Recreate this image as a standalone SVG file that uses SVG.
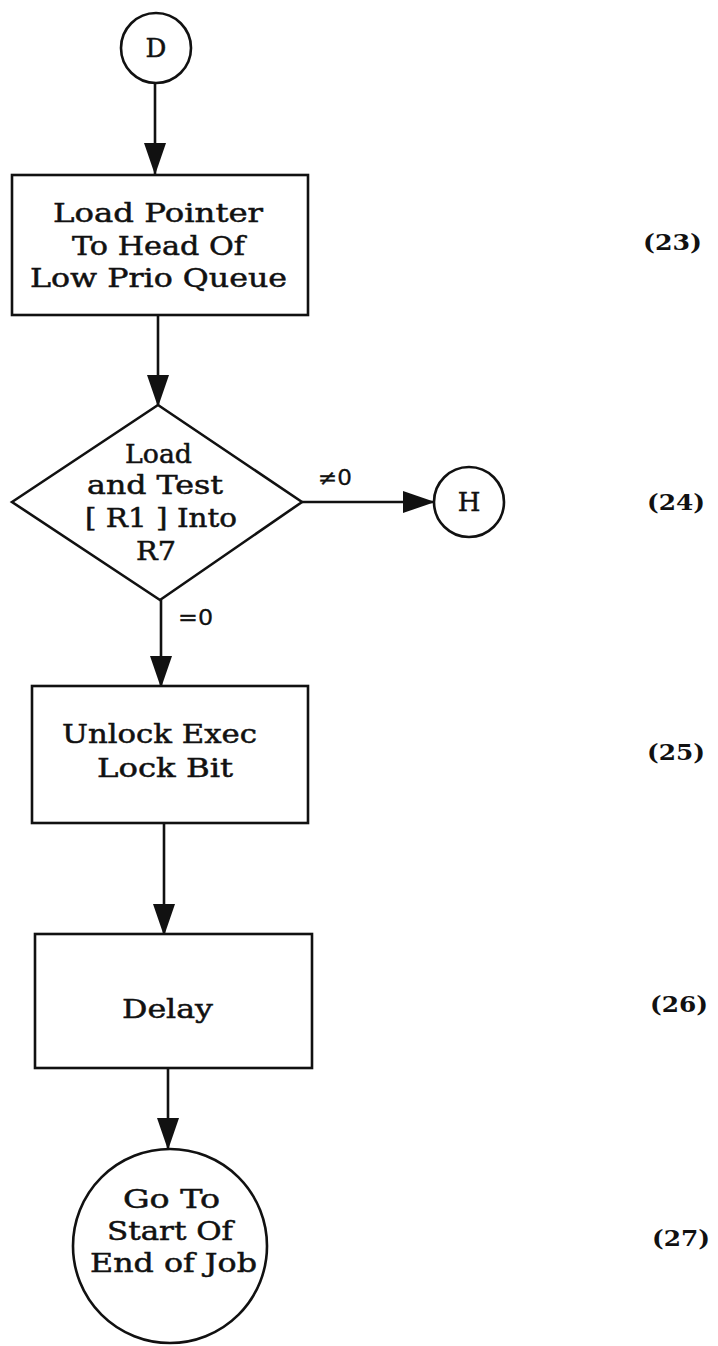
<svg xmlns="http://www.w3.org/2000/svg" width="718" height="1346" viewBox="0 0 718 1346">
  <style>
    .shape { fill: #ffffff; stroke: #111111; stroke-width: 2.6; }
    .conn { fill: none; stroke: #111111; stroke-width: 2.6; }
    .txt { font-family: "DejaVu Serif", "Liberation Serif", serif; font-size: 26px; fill: #111111; stroke: #111111; stroke-width: 0.5; }
    .lbl { font-family: "DejaVu Serif", "Liberation Serif", serif; font-size: 22px; fill: #111111; font-weight: bold; }
    .edge { font-family: "DejaVu Sans", "Liberation Sans", sans-serif; font-size: 21px; fill: #111111; stroke: #111111; stroke-width: 0.3; }
  </style>
  <defs>
    <marker id="arrow" markerUnits="userSpaceOnUse" markerWidth="32" markerHeight="22" refX="31" refY="11" orient="auto">
      <path d="M0,0 L32,11 L0,22 Z" fill="#111111"/>
    </marker>
  </defs>
  <rect width="718" height="1346" fill="#ffffff"/>

  <!-- connectors -->
  <g id="connectors">
    <line class="conn" x1="155" y1="83" x2="155" y2="174" marker-end="url(#arrow)"/>
    <line class="conn" x1="158" y1="315" x2="158" y2="406" marker-end="url(#arrow)"/>
    <line class="conn" x1="302" y1="502" x2="434" y2="502" marker-end="url(#arrow)"/>
    <line class="conn" x1="161" y1="600" x2="161" y2="687" marker-end="url(#arrow)"/>
    <line class="conn" x1="164" y1="823" x2="164" y2="935" marker-end="url(#arrow)"/>
    <line class="conn" x1="168" y1="1068" x2="168" y2="1149" marker-end="url(#arrow)"/>
    <text class="edge" x="318" y="485" textLength="34" lengthAdjust="spacingAndGlyphs">≠0</text>
    <text class="edge" x="178" y="625" textLength="35" lengthAdjust="spacingAndGlyphs">=0</text>
  </g>

  <!-- entry connector D -->
  <g id="node-d">
    <circle class="shape" cx="156" cy="48" r="35"/>
    <text class="txt" x="156" y="57" text-anchor="middle">D</text>
  </g>

  <!-- step 23 -->
  <g id="node-load-pointer">
    <rect class="shape" x="12" y="175" width="296" height="140"/>
    <text class="txt" x="53" y="222" textLength="210" lengthAdjust="spacingAndGlyphs">Load Pointer</text>
    <text class="txt" x="72" y="255" textLength="173" lengthAdjust="spacingAndGlyphs">To Head Of</text>
    <text class="txt" x="30" y="287" textLength="257" lengthAdjust="spacingAndGlyphs">Low Prio Queue</text>
  </g>

  <!-- step 24 -->
  <g id="node-test">
    <polygon class="shape" points="12,502 158,405 302,502 160,600"/>
    <text class="txt" x="125" y="463" textLength="67" lengthAdjust="spacingAndGlyphs">Load</text>
    <text class="txt" x="87" y="494" textLength="136" lengthAdjust="spacingAndGlyphs">and Test</text>
    <text class="txt" x="85" y="527" textLength="152" lengthAdjust="spacingAndGlyphs">[ R1 ] Into</text>
    <text class="txt" x="136" y="560" textLength="40" lengthAdjust="spacingAndGlyphs">R7</text>
  </g>

  <!-- exit connector H -->
  <g id="node-h">
    <circle class="shape" cx="469" cy="502" r="35"/>
    <text class="txt" x="469" y="511" text-anchor="middle">H</text>
  </g>

  <!-- step 25 -->
  <g id="node-unlock">
    <rect class="shape" x="32" y="686" width="276" height="137"/>
    <text class="txt" x="62" y="743" textLength="195" lengthAdjust="spacingAndGlyphs">Unlock Exec</text>
    <text class="txt" x="97" y="777" textLength="136" lengthAdjust="spacingAndGlyphs">Lock Bit</text>
  </g>

  <!-- step 26 -->
  <g id="node-delay">
    <rect class="shape" x="35" y="934" width="277" height="134"/>
    <text class="txt" x="122" y="1018" textLength="91" lengthAdjust="spacingAndGlyphs">Delay</text>
  </g>

  <!-- step 27 -->
  <g id="node-end">
    <circle class="shape" cx="170" cy="1246" r="97"/>
    <text class="txt" x="123" y="1208" textLength="97" lengthAdjust="spacingAndGlyphs">Go To</text>
    <text class="txt" x="107" y="1240" textLength="126" lengthAdjust="spacingAndGlyphs">Start Of</text>
    <text class="txt" x="90" y="1272" textLength="167" lengthAdjust="spacingAndGlyphs">End of Job</text>
  </g>

  <!-- step numbers -->
  <g id="step-numbers">
    <text class="lbl" x="643" y="250" textLength="59" lengthAdjust="spacingAndGlyphs">(23)</text>
    <text class="lbl" x="647" y="510" textLength="58" lengthAdjust="spacingAndGlyphs">(24)</text>
    <text class="lbl" x="647" y="760" textLength="58" lengthAdjust="spacingAndGlyphs">(25)</text>
    <text class="lbl" x="650" y="1012" textLength="58" lengthAdjust="spacingAndGlyphs">(26)</text>
    <text class="lbl" x="652" y="1246" textLength="58" lengthAdjust="spacingAndGlyphs">(27)</text>
  </g>
</svg>
